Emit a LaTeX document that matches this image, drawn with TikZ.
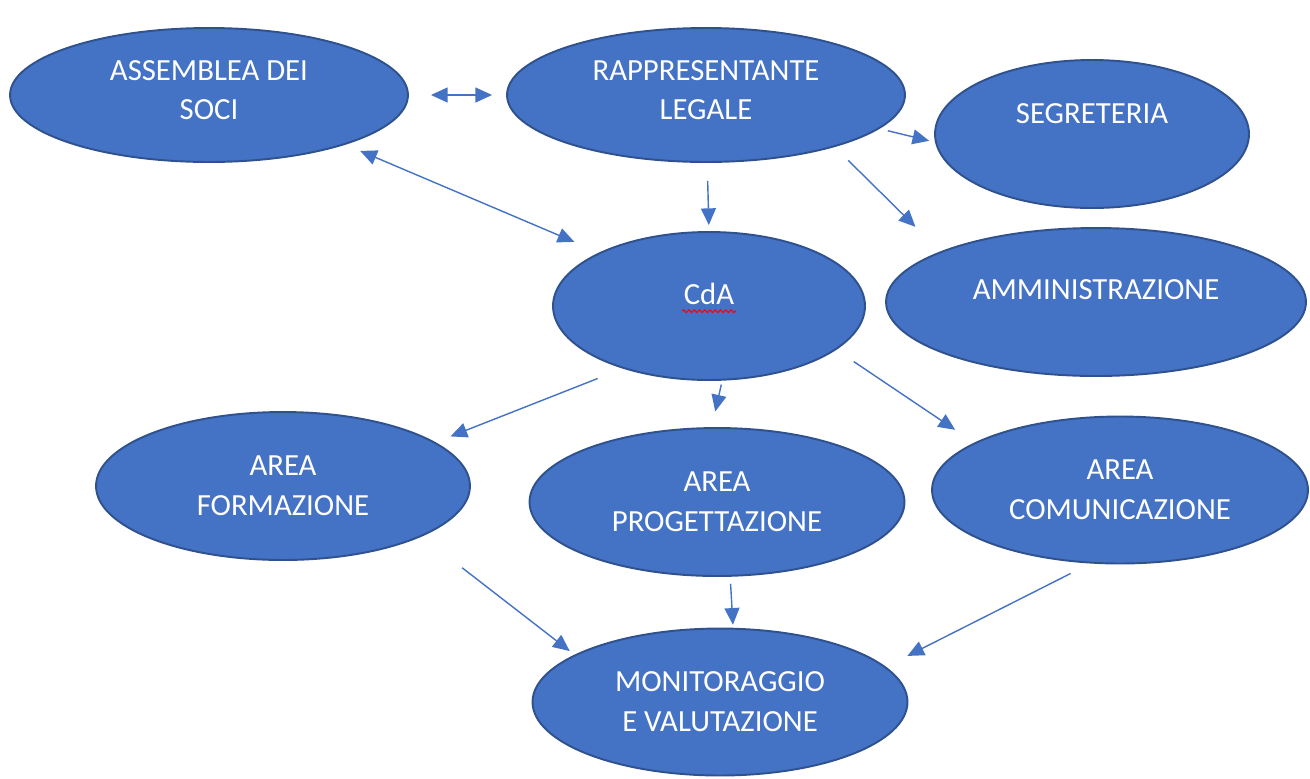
\documentclass[tikz,border=0pt]{standalone}
\usepackage{fontspec}
\setmainfont{Carlito}
\usepackage{tikz}
\usetikzlibrary{calc,shapes.geometric,arrows.meta,decorations.pathmorphing}
\definecolor{wordblue}{HTML}{4472C4}
\definecolor{wordline}{HTML}{2F528F}
\tikzset{
	blob/.style={ellipse, draw=wordline, line width=1.1pt, fill=wordblue, text=white, inner sep=0pt, align=center,
		font=\fontsize{17.5}{22.7}\selectfont},
	link/.style={draw=wordblue, line width=0.8pt, -{Triangle[length=9.5pt,width=8.5pt]}},
	wavy/.style={draw=red, line width=0.6pt, decorate, decoration={snake, amplitude=0.8pt, segment length=3pt}}
}

\begin{document}
\begin{tikzpicture}[x=0.02cm,y=-0.02cm]
			%%%%% START %%%%%
			\def\blobht{2.96cm}
			\useasboundingbox (0,0) rectangle (1310,778);
			
			\node[blob, minimum width=7.96cm, minimum height=2.68cm, text depth=0.2cm] (soci) at (209,95) {ASSEMBLEA DEI\\SOCI};
			\node[blob, minimum width=7.96cm, minimum height=2.68cm, text depth=0.2cm] (rapp) at (706,95) {RAPPRESENTANTE\\LEGALE};
			\node[blob, minimum width=6.28cm, minimum height=\blobht, text depth=0.8cm] (segr) at (1092,134) {SEGRETERIA};
			\node[blob, minimum width=6.24cm, minimum height=\blobht, text depth=0.5cm] (cda) at (709,306) {CdA};
			\node[blob, minimum width=8.40cm, minimum height=\blobht, text depth=0.48cm] (amm) at (1096,302) {AMMINISTRAZIONE};
			
			\node[blob, minimum width=7.48cm, minimum height=\blobht] (form) at (283,486) {AREA\\FORMAZIONE};
			\node[blob, minimum width=7.50cm, minimum height=\blobht] (prog) at (717,502) {AREA\\PROGETTAZIONE};
			\node[blob, minimum width=7.52cm, minimum height=2.94cm] (comu) at (1120,490) {AREA\\COMUNICAZIONE};
			\node[blob, minimum width=7.50cm, minimum height=2.94cm] (moni) at (720,702) {MONITORAGGIO\\E VALUTAZIONE};
			
			\draw[wavy] ($(cda.base)+(-27,7)$) -- ($(cda.base)+(27,7)$);
			
			% top row
			\draw[link, {Triangle[length=9.5pt,width=8.5pt]}-{Triangle[length=9.5pt,width=8.5pt]}, shorten <=0.44cm, shorten >=0.28cm] (soci.east) -- (rapp.west);
			\draw[link, {Triangle[length=9.5pt,width=8.5pt]}-{Triangle[length=9.5pt,width=8.5pt]}, shorten <=0.32cm, shorten >=0.54cm] (soci.-20) -- (cda.154);
			\draw[link, shorten <=0.36cm, shorten >=0.12cm] (rapp.-89) -- (cda.north);
			\draw[link, shorten <=0.17cm, shorten >=0.12cm] (rapp.-11) -- (segr.183);
			\draw[link, shorten <=0.38cm, shorten >=0.70cm] (rapp.-22) -- (amm.162);
			
			% CdA to areas
			\draw[link, shorten <=0.54cm, shorten >=0.32cm] (cda.-144) -- (form.16);
			\draw[link, shorten <=0.08cm, shorten >=0.32cm] (cda.-80) -- (prog.94);
			\draw[link, shorten <=0.42cm, shorten >=0.46cm] (cda.-19.5) -- (comu.162);
			
			% areas to monitoraggio
			\draw[link, shorten <=1.02cm, shorten >=0.12cm] (form.-20) -- (moni.162);
			\draw[link, shorten <=0.14cm, shorten >=0.06cm] (prog.-80) -- (moni.80);
			\draw[link, shorten <=0.44cm, shorten >=0.48cm] (comu.-112) -- (moni.12.5);
			%%%%% END %%%%%
\end{tikzpicture}
\end{document}
